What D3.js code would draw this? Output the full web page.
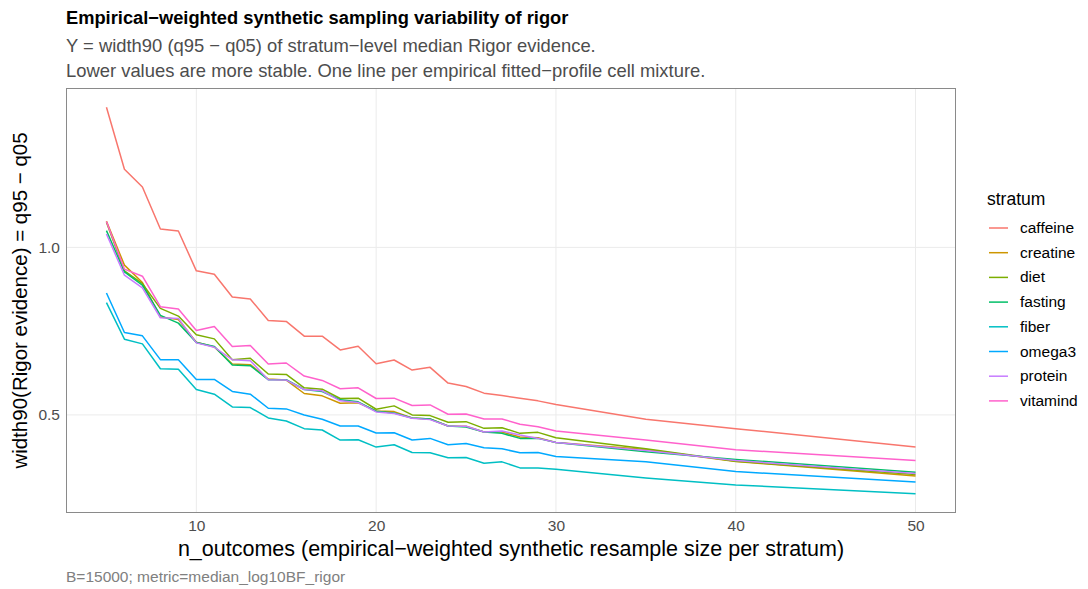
<!DOCTYPE html>
<html>
<head>
<meta charset="utf-8">
<script src="https://cdn.jsdelivr.net/npm/d3@7"></script>
<style>
  body { margin: 0; background: #fff; }
  text { font-family: "Liberation Sans", Arial, sans-serif; }
</style>
</head>
<body>
<svg id="chart" width="1088" height="589"></svg>
<script>
// n_outcomes on the x axis
const nOutcomes = [5, 6, 7, 8, 9, 10, 11, 12, 13, 14, 15, 16, 17, 18, 19, 20,
  21, 22, 23, 24, 25, 26, 27, 28, 29, 30, 35, 40, 50];

const strata = ['caffeine', 'creatine', 'diet', 'fasting', 'fiber', 'omega3', 'protein', 'vitamind'];

const caffeine = [1.418, 1.233, 1.180, 1.055, 1.049, 0.930, 0.920, 0.852, 0.846, 0.782, 0.779, 0.735, 0.735, 0.694, 0.705,
  0.653, 0.664, 0.634, 0.642, 0.595, 0.585, 0.565, 0.558, 0.550, 0.542, 0.531, 0.487, 0.459, 0.404];
const creatine = [1.078, 0.947, 0.895, 0.792, 0.785, 0.717, 0.703, 0.652, 0.650, 0.607, 0.604, 0.564, 0.557, 0.535, 0.536,
  0.512, 0.510, 0.491, 0.488, 0.467, 0.466, 0.449, 0.449, 0.434, 0.432, 0.418, 0.397, 0.361, 0.318];
const diet = [1.075, 0.930, 0.892, 0.818, 0.795, 0.739, 0.727, 0.665, 0.669, 0.622, 0.621, 0.581, 0.577, 0.549, 0.550,
  0.517, 0.527, 0.500, 0.498, 0.478, 0.480, 0.460, 0.462, 0.445, 0.448, 0.432, 0.399, 0.362, 0.322];
const fasting = [1.050, 0.927, 0.887, 0.797, 0.774, 0.716, 0.704, 0.649, 0.647, 0.605, 0.605, 0.576, 0.570, 0.545, 0.539,
  0.511, 0.506, 0.491, 0.488, 0.467, 0.464, 0.449, 0.445, 0.430, 0.430, 0.418, 0.390, 0.367, 0.329];
const fiber = [0.835, 0.726, 0.712, 0.638, 0.636, 0.576, 0.562, 0.524, 0.522, 0.491, 0.482, 0.459, 0.455, 0.425, 0.426,
  0.404, 0.411, 0.388, 0.387, 0.372, 0.373, 0.356, 0.360, 0.342, 0.342, 0.338, 0.312, 0.291, 0.265];
const omega3 = [0.864, 0.746, 0.736, 0.665, 0.665, 0.606, 0.606, 0.570, 0.562, 0.520, 0.518, 0.500, 0.487, 0.467, 0.467,
  0.446, 0.447, 0.425, 0.430, 0.411, 0.415, 0.402, 0.399, 0.387, 0.388, 0.376, 0.360, 0.331, 0.300];
const protein = [1.040, 0.917, 0.879, 0.790, 0.788, 0.715, 0.702, 0.665, 0.662, 0.605, 0.604, 0.576, 0.572, 0.542, 0.537,
  0.509, 0.504, 0.490, 0.486, 0.467, 0.466, 0.449, 0.452, 0.440, 0.430, 0.418, 0.394, 0.364, 0.325];
const vitamind = [1.077, 0.935, 0.914, 0.823, 0.816, 0.752, 0.764, 0.704, 0.707, 0.652, 0.655, 0.616, 0.603, 0.578, 0.581,
  0.549, 0.550, 0.528, 0.530, 0.502, 0.503, 0.488, 0.488, 0.472, 0.465, 0.452, 0.425, 0.396, 0.364];

const xTicks = [10, 20, 30, 40, 50];
const yTicks = [0.5, 1.0];

const seriesValues = { caffeine, creatine, diet, fasting, fiber, omega3, protein, vitamind };
const colors = ['#F8766D', '#CD9600', '#7CAE00', '#00BE67', '#00BFC4', '#00A9FF', '#C77CFF', '#FF61CC'];

// panel box
const panel = { left: 66, top: 88, right: 956, bottom: 513 };

const svg = d3.select('#chart');

// scales, with ggplot style 5% expansion
const xMin = d3.min(nOutcomes), xMax = d3.max(nOutcomes);
const xPad = (xMax - xMin) * 0.05;
const x = d3.scaleLinear()
  .domain([xMin - xPad, xMax + xPad])
  .range([panel.left, panel.right]);

const allVals = strata.flatMap(s => seriesValues[s]);
const yMin = d3.min(allVals), yMax = d3.max(allVals);
const yPad = (yMax - yMin) * 0.05;
const y = d3.scaleLinear()
  .domain([yMin - yPad, yMax + yPad])
  .range([panel.bottom, panel.top]);

const color = d3.scaleOrdinal().domain(strata).range(colors);

// GRIDLINES
const grid = svg.append('g').attr('class', 'grid');
grid.selectAll('.vgrid').data(xTicks).enter().append('line')
  .attr('x1', d => x(d)).attr('x2', d => x(d))
  .attr('y1', panel.top).attr('y2', panel.bottom)
  .attr('stroke', '#ebebeb').attr('stroke-width', 1);
grid.selectAll('.hgrid').data(yTicks).enter().append('line')
  .attr('x1', panel.left).attr('x2', panel.right)
  .attr('y1', d => y(d)).attr('y2', d => y(d))
  .attr('stroke', '#ebebeb').attr('stroke-width', 1);

// LINES
const line = d3.line()
  .x((d, i) => x(nOutcomes[i]))
  .y(d => y(d));

svg.append('g').selectAll('path')
  .data(strata)
  .enter()
  .append('path')
  .attr('d', s => line(seriesValues[s]))
  .attr('fill', 'none')
  .attr('stroke', s => color(s))
  .attr('stroke-width', 1.5)
  .attr('stroke-linejoin', 'round');

// PANEL BORDER
svg.append('rect')
  .attr('x', panel.left + 0.5).attr('y', panel.top + 0.5)
  .attr('width', panel.right - panel.left - 1).attr('height', panel.bottom - panel.top - 1)
  .attr('fill', 'none').attr('stroke', '#8a8a8a').attr('stroke-width', 1);

// AXES (no domain line, ticks hidden like the theme)
const xAxis = d3.axisBottom(x).tickValues(xTicks).tickSize(0).tickPadding(7);
svg.append('g')
  .attr('transform', `translate(0,${panel.bottom})`)
  .call(xAxis)
  .call(g => g.select('.domain').remove())
  .selectAll('text')
  .style('font-size', '15.5px').attr('fill', '#4d4d4d')
  .style('font-family', '"Liberation Sans", Arial, sans-serif');

const yAxis = d3.axisLeft(y).tickValues(yTicks).tickFormat(d3.format('.1f')).tickSize(0).tickPadding(6);
svg.append('g')
  .attr('transform', `translate(${panel.left},0)`)
  .call(yAxis)
  .call(g => g.select('.domain').remove())
  .selectAll('text')
  .style('font-size', '15.5px').attr('fill', '#4d4d4d')
  .style('font-family', '"Liberation Sans", Arial, sans-serif');

// AXIS TITLES
svg.append('text')
  .attr('x', (panel.left + panel.right) / 2).attr('y', 556)
  .attr('text-anchor', 'middle')
  .style('font-size', '21.5px').attr('fill', '#000')
  .text('n_outcomes (empirical\u2212weighted synthetic resample size per stratum)');

svg.append('text')
  .attr('transform', `translate(27,${(panel.top + panel.bottom) / 2}) rotate(-90)`)
  .attr('text-anchor', 'middle')
  .style('font-size', '20.5px').attr('fill', '#000')
  .text('width90(Rigor evidence) = q95 \u2212 q05');

// TITLES
svg.append('text')
  .attr('x', 66).attr('y', 24)
  .style('font-size', '18.3px').style('font-weight', 'bold').attr('fill', '#000')
  .text('Empirical\u2212weighted synthetic sampling variability of rigor');

svg.append('text')
  .attr('x', 66).attr('y', 52)
  .style('font-size', '18.4px').attr('fill', '#4d4d4d')
  .text('Y = width90 (q95 \u2212 q05) of stratum\u2212level median Rigor evidence.');

svg.append('text')
  .attr('x', 66).attr('y', 77)
  .style('font-size', '18.4px').attr('fill', '#4d4d4d')
  .text('Lower values are more stable. One line per empirical fitted\u2212profile cell mixture.');

// CAPTION
svg.append('text')
  .attr('x', 66).attr('y', 582)
  .style('font-size', '15.5px').attr('fill', '#808080')
  .text('B=15000; metric=median_log10BF_rigor');

// LEGEND
const legend = svg.append('g').attr('transform', 'translate(987,0)');
legend.append('text')
  .attr('x', 0).attr('y', 205)
  .style('font-size', '17.5px').attr('fill', '#000')
  .text('stratum');

const items = legend.selectAll('.item')
  .data(strata)
  .enter()
  .append('g')
  .attr('class', 'item')
  .attr('transform', (d, i) => `translate(0,${228 + i * 24.7})`);

items.append('line')
  .attr('x1', 2).attr('x2', 21)
  .attr('y1', 0).attr('y2', 0)
  .attr('stroke', d => color(d)).attr('stroke-width', 1.5);

items.append('text')
  .attr('x', 33).attr('y', 5)
  .style('font-size', '15.5px').attr('fill', '#000')
  .text(d => d);
</script>
</body>
</html>
